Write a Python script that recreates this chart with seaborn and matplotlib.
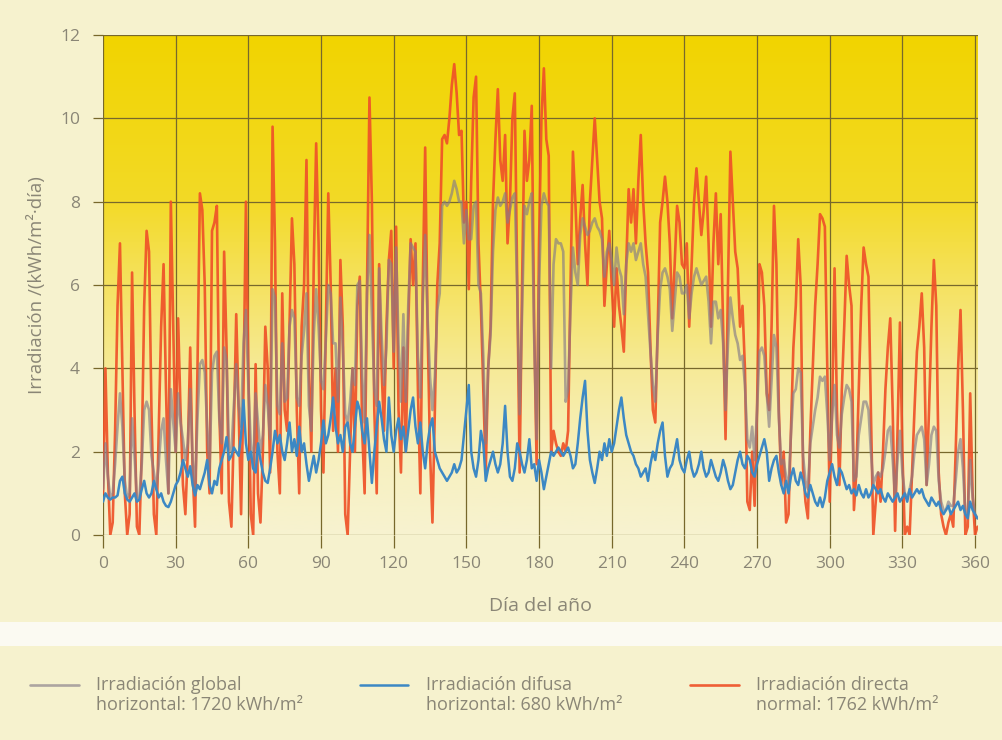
import numpy as np
import pandas as pd
import seaborn as sns
import matplotlib.pyplot as plt
from matplotlib.colors import LinearSegmentedColormap
from matplotlib.legend_handler import HandlerLine2D

# Daily irradiation values (kWh/m2 per day), day 0 .. 361
dni = [
    1.0, 4.0, 1.5, 0.0, 0.3, 2.5, 5.5, 7.0, 4.0, 1.0,
    0.0, 0.5, 6.3, 3.0, 0.2, 0.0, 2.0, 5.5, 7.3, 6.8,
    3.0, 0.5, 0.0, 2.5, 5.0, 6.5, 3.5, 1.0, 8.0, 5.0,
    2.0, 5.2, 3.0, 1.2, 0.5, 2.0, 4.5, 1.5, 0.2, 4.0,
    8.2, 7.8, 6.0, 2.0, 1.0, 7.3, 7.5, 7.9, 3.0, 1.0,
    6.8, 4.5, 0.8, 0.2, 2.5, 5.3, 3.0, 0.5, 3.5, 8.0,
    4.0, 0.5, 0.0, 4.1, 1.0, 0.3, 2.0, 5.0, 4.0, 1.5,
    9.8, 7.0, 2.0, 1.0, 5.8, 3.0, 2.5, 5.0, 7.6, 6.5,
    3.0, 1.0, 5.0, 6.0, 9.0, 4.0, 2.0, 6.5, 9.4, 7.0,
    3.0, 1.5, 5.0, 8.2, 6.0, 2.5, 4.0, 2.0, 6.6, 5.0,
    0.5, 0.0, 2.0, 4.0, 2.0, 5.5, 6.2, 2.5, 1.0, 6.0,
    10.5, 8.0, 3.0, 1.0, 6.5, 4.0, 2.5, 5.0, 6.6, 7.3,
    4.0, 7.4, 3.0, 1.5, 4.5, 2.0, 5.0, 7.1, 6.0, 7.0,
    3.5, 1.0, 6.0, 9.3, 5.0, 2.0, 0.3, 3.0, 6.0, 7.0,
    9.5, 9.6, 9.4, 10.0, 10.8, 11.3, 10.6, 9.6, 9.7, 7.5,
    8.0, 5.9, 8.5, 10.5, 11.0, 7.0, 5.5, 3.5, 1.5, 4.0,
    5.0, 8.0, 9.5, 10.7, 9.0, 8.5, 9.6, 7.0, 8.0, 10.0,
    10.6, 6.0, 1.5, 6.0, 9.7, 8.5, 9.0, 10.3, 5.0, 1.7,
    7.0, 10.0, 11.2, 9.5, 9.1, 2.0, 2.5, 2.2, 2.0, 1.9,
    2.2, 2.0, 2.5, 6.0, 9.2, 8.0, 6.5, 7.6, 8.4, 7.0,
    6.0, 8.0, 9.0, 10.0, 9.0, 8.0, 7.6, 5.5, 6.5, 7.3,
    6.0, 5.0, 6.4, 5.5, 5.0, 4.4, 6.5, 8.3, 7.5, 8.3,
    7.0, 8.5, 9.6, 8.0, 7.0, 6.3, 4.5, 3.0, 2.7, 5.0,
    7.5, 8.0, 8.6, 8.0, 7.0, 5.2, 6.5, 7.9, 7.5, 6.5,
    6.4, 7.0, 5.0, 6.5, 8.0, 8.8, 8.0, 7.2, 7.8, 8.6,
    7.0, 5.0, 7.0, 8.2, 6.5, 7.7, 5.0, 2.3, 6.0, 9.2,
    8.0, 6.8, 6.4, 5.0, 5.5, 4.0, 0.8, 0.6, 2.0, 0.7,
    3.0, 6.5, 6.3, 5.5, 3.4, 3.0, 5.0, 7.9, 6.5, 3.0,
    1.2, 2.0, 0.3, 0.5, 2.5, 4.5, 5.5, 7.1, 6.0, 1.6,
    0.8, 0.4, 2.5, 4.0, 5.5, 6.5, 7.7, 7.6, 7.4, 4.0,
    0.8, 3.0, 6.4, 3.0, 1.2, 3.5, 5.0, 6.7, 6.0, 5.5,
    0.6, 1.5, 3.5, 5.5, 6.9, 6.5, 6.2, 3.0, 0.0, 0.8,
    1.5, 0.8, 2.0, 3.5, 4.5, 5.2, 3.0, 0.1, 2.5, 5.1,
    2.0, 0.0, 0.2, 0.0, 1.5, 3.0, 4.4, 5.0, 5.8, 4.5,
    1.2, 3.0, 5.0, 6.6, 5.5, 1.5, 0.5, 0.2, 0.0, 0.3,
    0.5, 0.2, 2.0, 4.0, 5.4, 3.0, 0.0, 0.2, 3.4, 1.0,
    0.0, 0.2,
]

dhi = [
    0.8, 1.0, 0.9, 0.85, 0.9, 0.9, 0.95, 1.3, 1.4, 1.0,
    0.85, 0.8, 0.9, 1.0, 0.8, 0.85, 1.1, 1.3, 1.0, 0.9,
    1.0, 1.3, 1.1, 0.9, 1.0, 0.8, 0.7, 0.67, 0.8, 1.0,
    1.2, 1.3, 1.5, 1.8, 1.6, 1.4, 1.65, 1.2, 0.95, 1.2,
    1.1, 1.3, 1.5, 1.8, 1.2, 1.0, 1.3, 1.2, 1.6, 1.8,
    2.0, 2.35, 1.8, 1.9, 2.1, 2.0, 1.9, 2.4, 3.24, 2.2,
    1.8, 2.0, 1.6, 1.5, 2.2, 1.8, 1.5, 1.3, 1.25, 1.6,
    2.0, 2.5, 2.2, 2.4, 2.0, 1.8, 2.2, 2.7, 2.0, 2.3,
    1.9, 2.6, 2.0, 2.2, 1.7, 1.3, 1.6, 1.9, 1.5, 1.8,
    2.2, 2.75, 2.2, 2.4, 2.8, 3.3, 2.6, 2.2, 2.4, 2.0,
    2.6, 2.7, 2.2, 2.0, 2.6, 3.2, 3.0, 2.5, 2.2, 2.8,
    2.0, 1.25, 2.0, 2.6, 3.2, 2.8, 2.3, 2.0, 3.3, 2.4,
    2.0, 2.5, 2.8, 2.3, 2.6, 2.0, 2.5, 3.0, 3.3, 2.6,
    2.2, 2.7, 2.0, 1.6, 2.2, 2.6, 2.8, 2.0, 1.8, 1.6,
    1.5, 1.4, 1.3, 1.4, 1.5, 1.7, 1.5, 1.6, 1.8, 2.4,
    3.0, 3.6, 2.0, 1.6, 1.4, 1.8, 2.5, 2.2, 1.3, 1.6,
    1.8, 2.0, 1.7, 1.5, 1.7, 2.2, 3.1, 2.0, 1.4, 1.3,
    1.6, 2.2, 2.0, 1.7, 1.5, 1.8, 2.3, 1.6, 1.7, 1.3,
    1.8, 1.5, 1.1, 1.4, 1.7, 2.0, 1.9, 2.0, 2.1, 2.0,
    1.9, 2.0, 2.1, 1.9, 1.6, 1.7, 2.2, 2.8, 3.3, 3.7,
    2.5, 1.8, 1.5, 1.25, 1.6, 2.0, 1.8, 2.2, 1.9, 2.3,
    2.0, 2.2, 2.6, 3.0, 3.3, 2.8, 2.4, 2.2, 2.0, 1.9,
    1.7, 1.6, 1.4, 1.5, 1.6, 1.3, 1.7, 2.0, 1.8, 2.2,
    2.5, 2.7, 1.9, 1.4, 1.6, 1.7, 2.0, 2.3, 1.8, 1.6,
    1.5, 1.8, 2.0, 1.6, 1.4, 1.5, 1.7, 2.0, 1.6, 1.4,
    1.5, 1.8, 1.6, 1.4, 1.3, 1.5, 1.8, 1.6, 1.3, 1.1,
    1.2, 1.5, 1.8, 2.0, 1.7, 1.6, 1.9, 1.8, 1.5, 1.4,
    1.7, 1.9, 2.1, 2.3, 2.0, 1.3, 1.6, 1.8, 1.9, 1.5,
    1.2, 1.0, 1.3, 1.0, 1.4, 1.6, 1.3, 1.2, 1.5, 1.3,
    1.0, 0.9, 1.2, 1.0, 0.8, 0.7, 0.9, 0.67, 0.9, 1.3,
    1.5, 1.7, 1.4, 1.2, 1.6, 1.5, 1.3, 1.1, 1.2, 1.0,
    1.1, 0.95, 1.2, 1.0, 0.9, 1.1, 0.9, 1.0, 1.2, 1.1,
    1.0, 1.1, 0.9, 0.8, 1.0, 0.9, 0.8, 0.9, 1.0, 0.8,
    0.9, 1.0, 0.8, 1.1, 0.9, 1.0, 1.1, 1.0, 1.1, 0.9,
    0.8, 0.7, 0.9, 0.8, 0.7, 0.8, 0.6, 0.5, 0.6, 0.7,
    0.5, 0.6, 0.7, 0.8, 0.6, 0.7, 0.5, 0.4, 0.8, 0.6,
    0.5, 0.4,
]

ghi = [
    1.1, 2.2, 1.4, 0.9, 1.0, 1.7, 2.6, 3.4, 2.6, 1.3,
    0.9, 1.0, 2.8, 1.9, 0.9, 0.9, 1.7, 3.0, 3.2, 3.0,
    1.9, 1.5, 1.1, 1.7, 2.5, 2.8, 1.8, 1.0, 3.5, 2.7,
    2.0, 3.4, 2.7, 2.3, 1.8, 2.2, 3.5, 1.8, 1.1, 2.8,
    4.1, 4.2, 3.9, 2.6, 1.6, 3.9, 4.3, 4.4, 2.8, 2.2,
    4.5, 4.2, 2.1, 2.0, 3.1, 4.1, 3.1, 2.6, 4.6, 5.4,
    3.6, 2.2, 1.6, 3.4, 2.7, 2.0, 2.4, 3.6, 3.1, 2.3,
    5.9, 5.7, 3.1, 2.9, 4.6, 3.2, 3.3, 5.0, 5.4, 5.2,
    3.3, 3.1, 4.3, 4.9, 5.8, 3.1, 2.5, 4.8, 5.9, 5.0,
    3.7, 3.5, 4.7, 6.0, 5.8, 4.6, 4.6, 3.2, 5.7, 4.5,
    2.9, 2.7, 3.2, 4.0, 3.6, 6.0, 6.1, 3.8, 2.7, 5.8,
    7.2, 5.3, 3.5, 3.1, 6.4, 4.8, 3.6, 4.5, 6.6, 6.5,
    4.4, 6.9, 4.6, 3.2, 5.3, 3.2, 5.5, 7.0, 6.9, 6.8,
    4.3, 3.3, 5.6, 7.2, 5.2, 3.8, 3.0, 3.8, 5.4, 5.8,
    7.9, 8.0, 7.9, 8.0, 8.2, 8.5, 8.3, 8.0, 8.0, 7.0,
    7.8, 7.1, 7.1, 7.9, 8.0, 6.0, 5.8, 4.3, 2.2, 4.0,
    4.8, 6.8, 7.8, 8.1, 7.9, 8.0, 8.2, 7.5, 7.8, 8.1,
    8.2, 5.8, 2.9, 5.3, 7.9, 7.7, 8.0, 8.2, 4.7, 2.3,
    6.0, 7.9, 8.2, 8.0, 7.9, 4.0, 6.5, 7.1, 7.0, 7.0,
    6.8, 3.2, 3.5, 5.4, 6.9, 6.3, 6.0, 7.2, 7.6, 7.4,
    7.2, 7.3, 7.5, 7.6, 7.4, 7.3, 7.1, 6.2, 6.8, 7.0,
    6.6, 6.0, 6.9, 6.4, 6.2, 5.3, 6.5, 7.0, 6.8, 7.0,
    6.6, 6.8, 7.0, 6.5, 6.2, 5.3, 4.4, 3.6, 3.2, 4.8,
    5.9, 6.3, 6.4, 6.2, 5.9, 4.9, 5.6, 6.3, 6.2, 5.8,
    5.8, 6.0, 5.2, 5.8, 6.2, 6.4, 6.2, 6.0, 6.1, 6.2,
    5.6, 4.6, 5.6, 5.6, 5.2, 5.4, 4.6, 3.0, 4.6, 5.7,
    5.2, 4.8, 4.6, 4.2, 4.3, 3.6, 2.3, 2.1, 2.6, 1.8,
    3.0, 4.4, 4.5, 4.3, 3.4, 2.6, 3.7, 4.8, 4.5, 2.8,
    1.7, 1.8, 1.4, 1.2, 2.4, 3.4, 3.5, 4.0, 3.9, 1.9,
    1.3, 1.1, 2.2, 2.6, 3.0, 3.3, 3.8, 3.7, 3.8, 2.9,
    1.8, 2.9, 3.6, 2.4, 2.1, 2.9, 3.3, 3.6, 3.5, 3.2,
    1.3, 1.4, 2.4, 2.8, 3.2, 3.2, 3.0, 2.0, 1.2, 1.4,
    1.5, 1.4, 1.6, 2.0, 2.5, 2.6, 1.8, 0.9, 1.8, 2.5,
    1.5, 1.0, 0.9, 1.1, 1.4, 2.0, 2.4, 2.5, 2.6, 2.3,
    1.2, 1.7, 2.4, 2.6, 2.5, 1.3, 0.8, 0.6, 0.6, 0.8,
    0.7, 0.7, 1.3, 2.0, 2.3, 1.6, 0.5, 0.5, 1.8, 0.9,
    0.5, 0.4,
]

days = list(range(len(dni)))
x_ticks = list(range(0, 361, 30))
y_ticks = list(range(0, 13, 2))

label_ghi = 'Irradiación global\nhorizontal: 1720 kWh/m²'
label_dhi = 'Irradiación difusa\nhorizontal: 680 kWh/m²'
label_dni = 'Irradiación directa\nnormal: 1762 kWh/m²'

df = pd.DataFrame({'dia': days, 'global': ghi, 'difusa': dhi, 'directa': dni})

sns.set_style('white')
plt.rcParams['font.family'] = ['Open Sans', 'DejaVu Sans']

grid_col = '#77682C'
text_col = '#8A8676'


class TopLine(HandlerLine2D):
    """Legend line level with the first row of a two-row label."""
    def create_artists(self, legend, orig_handle, xdescent, ydescent,
                       width, height, fontsize, trans):
        arts = super().create_artists(legend, orig_handle, xdescent, ydescent,
                                      width, height, fontsize, trans)
        for a in arts:
            a.set_ydata(np.asarray(a.get_ydata()) + 0.62 * fontsize)
        return arts


fig = plt.figure(figsize=(10.02, 7.4), dpi=100, facecolor='#F6F2CE')
ax = fig.add_axes([0.1028, 0.277, 0.8732, 0.6757])
xmax = 361.2

# yellow gradient behind the plot
sky = LinearSegmentedColormap.from_list('sky', [
    (0.0, '#F7F3D0'), (0.17, '#F7F0BD'), (0.33, '#F6EA98'),
    (0.5, '#F5E260'), (0.67, '#F3DA26'), (1.0, '#F1D400')])
ax.imshow(np.linspace(0, 1, 256).reshape(-1, 1), cmap=sky, origin='lower',
          aspect='auto', extent=(0, xmax, 0, 12), zorder=0)

sns.lineplot(data=df, x='dia', y='directa', color='#EF5228', lw=1.9,
             alpha=0.92, ax=ax, zorder=3, label=label_dni)
sns.lineplot(data=df, x='dia', y='global', color='#857C88', lw=1.9,
             alpha=0.65, ax=ax, zorder=4, label=label_ghi)
sns.lineplot(data=df, x='dia', y='difusa', color='#3C88C4', lw=1.8,
             ax=ax, zorder=5, label=label_dhi)
ax.get_legend().remove()

ax.set_xlim(0, xmax)
ax.set_ylim(0, 12)
ax.set_xticks(x_ticks)
ax.set_yticks(y_ticks)
ax.set_axisbelow(True)
ax.grid(True, color=grid_col, lw=0.9)
for s in ax.spines.values():
    s.set_visible(False)
ax.tick_params(width=0.9, color=grid_col, labelcolor=text_col, labelsize=12.5)
ax.tick_params(axis='x', bottom=True, length=9, pad=6)
ax.tick_params(axis='y', left=True, length=7.5, pad=9)
ax.set_xlabel('Día del año', fontsize=14, color=text_col, labelpad=18)
ax.set_ylabel('Irradiación /(kWh/m²·día)', fontsize=13.5, color=text_col,
              labelpad=10)

# pale band between chart and legend panel
fig.patches.append(plt.Rectangle((0, 0.127), 1, 0.033, transform=fig.transFigure,
                                 facecolor='#FBFAF2', edgecolor='none', zorder=0))

lines = {l.get_label(): l for l in ax.get_lines()}
for lab, xpos in [(label_ghi, 0.03), (label_dhi, 0.359), (label_dni, 0.689)]:
    fig.legend(handles=[lines[lab]], labels=[lab], loc='upper left',
               bbox_to_anchor=(xpos, 0.087), frameon=False, fontsize=13,
               labelcolor=text_col, handlelength=2.7, handletextpad=0.95,
               borderpad=0, borderaxespad=0,
               handler_map={lines[lab]: TopLine()})

fig.savefig('out.png', dpi=100, facecolor=fig.get_facecolor())
